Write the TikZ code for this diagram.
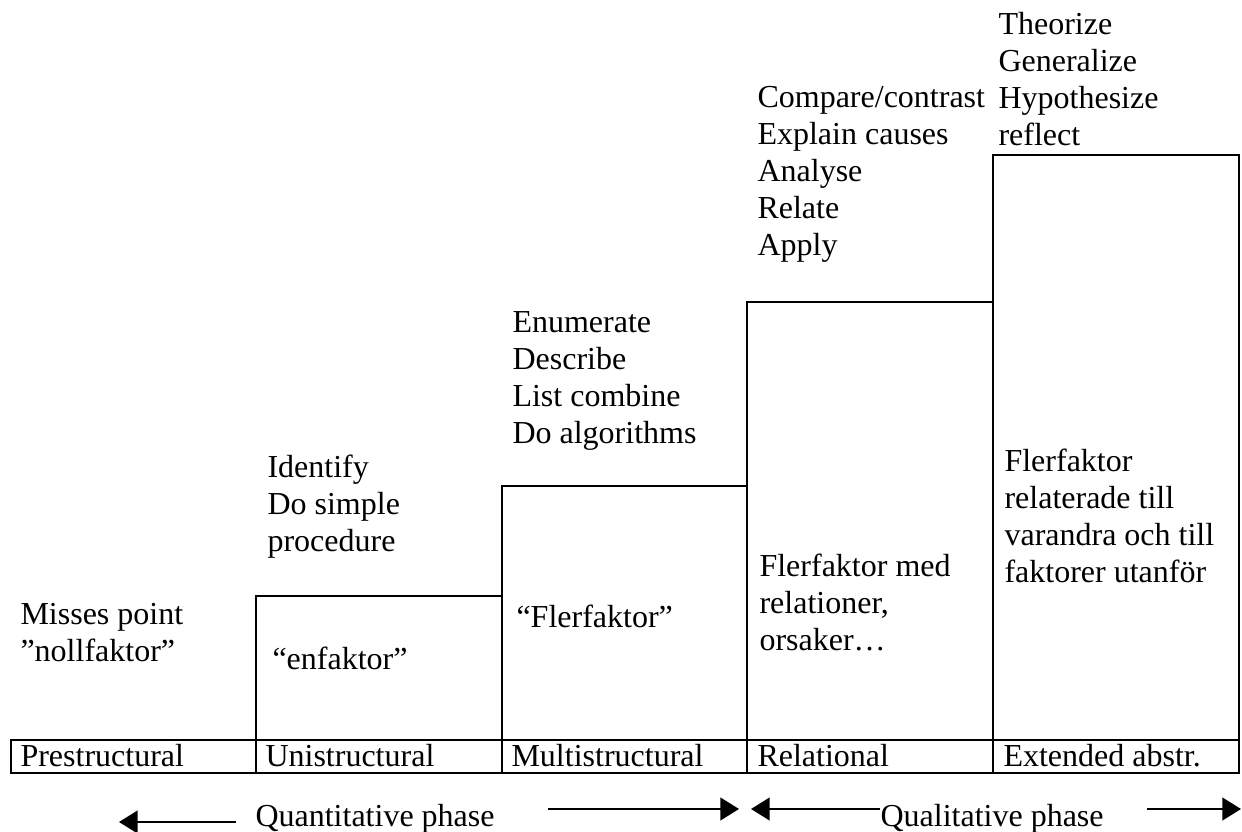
\documentclass[tikz,border=0pt]{standalone}
\usepackage{fontspec}
\setmainfont{Liberation Serif}
\usetikzlibrary{arrows.meta}
\begin{document}
\begin{tikzpicture}[x=0.375pt,y=-0.375pt,
  frame/.style={line width=0.9pt},
  lbl/.style={anchor=base west, inner sep=0pt, font=\fontsize{12}{13.8}\selectfont},
  phase/.style={line width=0.85pt, -{Triangle[length=7pt,width=8.5pt]}}]
\useasboundingbox (0,0) rectangle (1242,832);

% level steps
\draw[frame] (256,740) rectangle (502,596);
\draw[frame] (502,740) rectangle (747,486);
\draw[frame] (747,740) rectangle (993,302);
\draw[frame] (993,740) rectangle (1239,155);

% level names row
\draw[frame] (11,740) rectangle (1239,773);
\foreach \x in {256,502,747,993} \draw[frame] (\x,740) -- (\x,773);

\node[lbl] (n1) at (20,767) {Prestructural};
\node[lbl] (n2) at (265,767) {Unistructural};
\node[lbl] (n3) at (511,767) {Multistructural};
\node[lbl] (n4) at (757,767) {Relational};
\node[lbl] (n5) at (1003,767) {Extended abstr.};

% contents of each level
\node[lbl] (f1) at (20,625) {\begin{tabular}[t]{@{}l@{}}Misses point\\”nollfaktor”\end{tabular}};
\node[lbl] (f2) at (272,670) {“enfaktor”};
\node[lbl] (f3) at (516,628) {“Flerfaktor”};
\node[lbl] (f4) at (759,577) {\begin{tabular}[t]{@{}l@{}}Flerfaktor med\\relationer,\\orsaker…\end{tabular}};
\node[lbl] (f5) at (1004,472) {\begin{tabular}[t]{@{}l@{}}Flerfaktor\\relaterade till\\varandra och till\\faktorer utanför\end{tabular}};

% verbs above each step
\node[lbl] (v2) at (267,478) {\begin{tabular}[t]{@{}l@{}}Identify\\Do simple\\procedure\end{tabular}};
\node[lbl] (v3) at (512,333) {\begin{tabular}[t]{@{}l@{}}Enumerate\\Describe\\List combine\\Do algorithms\end{tabular}};
\node[lbl] (v4) at (757,108) {\begin{tabular}[t]{@{}l@{}}Compare/contrast\\Explain causes\\Analyse\\Relate\\Apply\end{tabular}};
\node[lbl] (v5) at (998,35) {\begin{tabular}[t]{@{}l@{}}Theorize\\Generalize\\Hypothesize\\reflect\end{tabular}};

% phases
\node[lbl] (qn) at (255,827) {Quantitative phase};
\node[lbl] (ql) at (880,827) {Qualitative phase};
\coordinate (a1s) at (236,822);
\coordinate (a1e) at (119,822);
\coordinate (a2s) at (548,809);
\coordinate (a2e) at (739,809);
\coordinate (a3s) at (880,809);
\coordinate (a3e) at (751,809);
\coordinate (a4s) at (1147,809);
\coordinate (a4e) at (1241,809);
\draw[phase] (a1s) -- (a1e);
\draw[phase] (a2s) -- (a2e);
\draw[phase] (a3s) -- (a3e);
\draw[phase] (a4s) -- (a4e);
\end{tikzpicture}
\end{document}
